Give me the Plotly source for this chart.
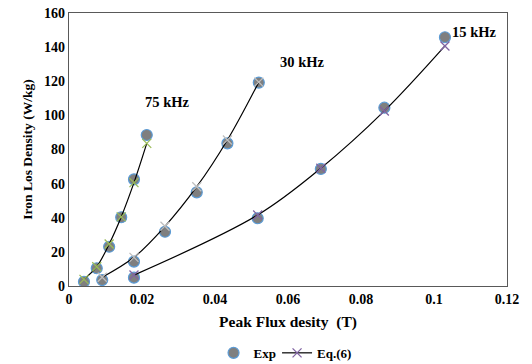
import plotly.graph_objects as go

# Peak flux density (T) and iron loss density (W/kg)
b_15 = [0.0178, 0.0517, 0.069, 0.0864, 0.103]
exp_15 = [4.9, 39.7, 68.6, 104.5, 145.8]
eq_15 = [6.4, 41.6, 69.0, 102.6, 140.7]

b_30 = [0.0091, 0.0178, 0.0263, 0.035, 0.0434, 0.052]
exp_30 = [3.5, 14.3, 31.8, 54.9, 83.6, 119.2]
eq_30 = [5.1, 16.8, 35.0, 58.2, 85.6, 119.5]

b_75 = [0.0041, 0.0076, 0.011, 0.0143, 0.0178, 0.0213]
exp_75 = [2.5, 10.4, 23.0, 40.3, 62.5, 88.5]
eq_75 = [3.9, 11.3, 24.6, 40.5, 60.6, 83.6]

x_ticks = [0, 0.02, 0.04, 0.06, 0.08, 0.1, 0.12]
x_tick_labels = ["0", "0.02", "0.04", "0.06", "0.08", "0.1", "0.12"]
y_ticks = [0, 20, 40, 60, 80, 100, 120, 140, 160]

FONT = "Liberation Serif"
exp_marker = dict(symbol="circle", size=11, color="#7f7f7f",
                  line=dict(color="#5b9bd5", width=1.2))

fig = go.Figure()

series = [
    (b_15, exp_15, eq_15, "#8064a2", True),
    (b_30, exp_30, eq_30, "#bfbfbf", False),
    (b_75, exp_75, eq_75, "#9bbb59", False),
]
for bx, ex, eq, xcol, show in series:
    fig.add_trace(go.Scatter(
        x=bx, y=ex, mode="markers", name="Exp", legend="legend",
        showlegend=show, marker=exp_marker))
for bx, ex, eq, xcol, show in series:
    fig.add_trace(go.Scatter(
        x=bx, y=eq, mode="lines+markers", name="Eq.(6)", legend="legend2",
        showlegend=show,
        line=dict(color="black", width=1.2, shape="spline", smoothing=1),
        marker=dict(symbol="x-thin-open", size=9,
                    line=dict(color=xcol, width=1.3), color=xcol)))

labels = [("15 kHz", 0.111, 149), ("30 kHz", 0.0638, 131), ("75 kHz", 0.0268, 108)]
for txt, ax, ay in labels:
    fig.add_annotation(x=ax, y=ay, text=txt, showarrow=False,
                       font=dict(family=FONT, size=14.5, color="black", weight="bold"))

leg_common = dict(orientation="h", y=-0.245, yanchor="middle", xanchor="left",
                  font=dict(family=FONT, size=13, weight="bold"),
                  itemwidth=30, bgcolor="rgba(0,0,0,0)")

fig.update_layout(
    width=532, height=364,
    margin=dict(l=69, r=25, t=13, b=78, autoexpand=False),
    paper_bgcolor="white", plot_bgcolor="white",
    font=dict(family=FONT, size=14, color="black", weight="bold"),
    showlegend=True,
    legend=dict(x=0.33, **leg_common),
    legend2=dict(x=0.475, **leg_common),
)
fig.update_xaxes(
    range=[0, 0.12], tickvals=x_ticks, ticktext=x_tick_labels,
    showgrid=False, zeroline=False, showline=True, mirror=True,
    linecolor="#595959", linewidth=1.2, ticks="", automargin=False,
    ticklabeloverflow="allow",
    title=dict(text="Peak Flux desity  (T)", standoff=10,
               font=dict(family=FONT, size=15.5, weight="bold")),
    tickfont=dict(family=FONT, size=14, weight="bold"),
)
fig.update_yaxes(
    range=[0, 160], tickvals=y_ticks,
    showgrid=False, zeroline=False, showline=True, mirror=True,
    linecolor="#595959", linewidth=1.2, ticks="", automargin=False,
    ticklabeloverflow="allow",
    title=dict(text="Iron Los Density (W/kg)", standoff=8,
               font=dict(family=FONT, size=13.5, weight="bold")),
    tickfont=dict(family=FONT, size=14, weight="bold"),
)

fig.write_html("out.html", config={"displayModeBar": False},
               post_script="document.body.style.margin='0';document.body.style.overflow='hidden';")
